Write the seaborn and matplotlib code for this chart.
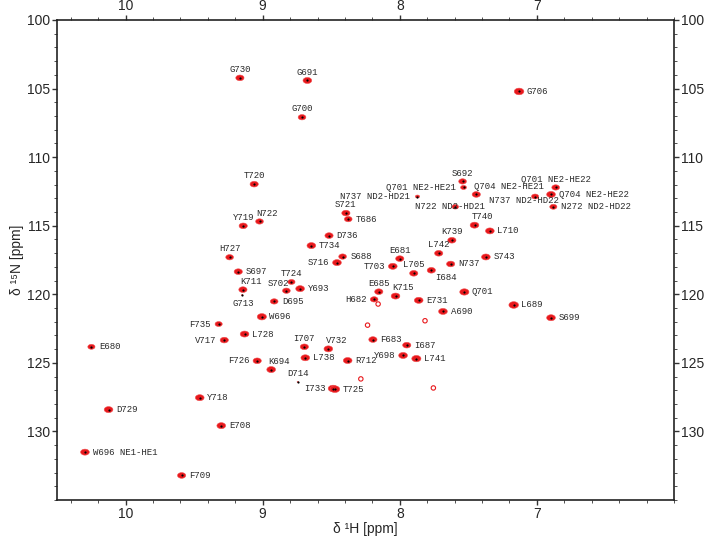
import numpy as np
import pandas as pd
import matplotlib
matplotlib.use('Agg')
import matplotlib.pyplot as plt
import seaborn as sns
from matplotlib.ticker import MultipleLocator

# assigned peaks: label, 1H shift, 15N shift, relative intensity
labels = ['G730', 'G691', 'G700', 'G706', 'T720', 'Y719', 'N722', 'S721', 'T686', 'S692',
          'Q701 NE2-HE21', 'Q704 NE2-HE21', 'N737 ND2-HD21', 'N722 ND2-HD21', 'N737 ND2-HD22',
          'Q701 NE2-HE22', 'Q704 NE2-HE22', 'N272 ND2-HD22', 'T740', 'L710',
          'K739', 'L742', 'S743', 'E681', 'N737', 'T703', 'L705', 'I684', 'K715', 'E731',
          'Q701', 'L689', 'S699', 'A690', 'D736', 'T734', 'H727', 'S688', 'S716', 'S697',
          'T724', 'K711', 'G713', 'S702', 'Y693', 'D695', 'E685', 'H682', 'W696', 'F735',
          'L728', 'F683', 'I707', 'V732', 'I687', 'L738', 'R712', 'Y698', 'L741', 'E680',
          'V717', 'F726', 'K694', 'D714', 'I733', 'T725', 'Y718', 'D729', 'E708',
          'W696 NE1-HE1', 'F709']
h_ppm = [9.166, 8.674, 8.713, 7.130, 9.062, 9.142, 9.023, 8.393, 8.376, 7.542,
         7.535, 7.442, 7.871, 7.595, 7.013,
         6.863, 6.897, 6.880, 7.455, 7.343,
         7.620, 7.716, 7.372, 8.000, 7.629, 8.051, 7.898, 7.770, 8.031, 7.862,
         7.529, 7.169, 6.897, 7.685, 8.516, 8.645, 9.241, 8.417, 8.458, 9.178,
         8.790, 9.144, 9.149, 8.827, 8.727, 8.916, 8.153, 8.187, 9.006, 9.321,
         9.132, 8.196, 8.696, 8.521, 7.949, 8.689, 8.380, 7.976, 7.879, 10.249,
         9.280, 9.040, 8.938, 8.744, 8.487, 8.473, 9.459, 10.124, 9.302,
         10.296, 9.591]
n_ppm = [104.22, 104.41, 107.09, 105.21, 111.97, 115.01, 114.69, 114.08, 114.52, 111.77,
         112.21, 112.72, 112.87, 113.62, 112.87,
         112.21, 112.72, 113.62, 114.96, 115.38,
         116.06, 117.01, 117.28, 117.40, 117.79, 117.96, 118.47, 118.25, 120.13, 120.44,
         119.83, 120.78, 121.71, 121.25, 115.72, 116.45, 117.30, 117.25, 117.69, 118.35,
         119.10, 119.66, 120.05, 119.74, 119.59, 120.52, 119.81, 120.37, 121.64, 122.17,
         122.90, 123.30, 123.83, 123.98, 123.71, 124.63, 124.83, 124.46, 124.69, 123.83,
         123.34, 124.85, 125.49, 126.39, 126.87, 126.92, 127.54, 128.41, 129.58,
         131.51, 133.21]
intensity = [1.0, 1.1, 0.9, 1.3, 1.0, 1.0, 0.9, 1.0, 0.9, 0.9,
             0.6, 1.0, 0.4, 0.7, 0.8,
             0.9, 1.1, 0.8, 1.1, 1.1,
             1.0, 1.0, 1.1, 1.0, 1.0, 1.1, 1.0, 1.0, 1.1, 1.1,
             1.2, 1.3, 1.1, 1.1, 1.0, 1.1, 0.9, 0.9, 1.1, 1.0,
             0.8, 1.0, 0.2, 0.9, 1.1, 0.9, 1.0, 0.9, 1.2, 0.8,
             1.1, 1.0, 1.0, 1.1, 1.0, 1.1, 1.1, 1.1, 1.2, 0.8,
             1.0, 1.0, 1.1, 0.2, 1.3, 1.3, 1.1, 1.1, 1.1,
             1.1, 1.0]

# weak unassigned contours
noise_h = [8.235, 7.816, 8.284, 7.755, 8.158]
noise_n = [122.25, 121.93, 126.17, 126.83, 120.71]

# where each label sits relative to its peak
place = ['a', 'a', 'a', 'r', 'a', 'a', 'ar', 'a', 'r', 'a',
         'l', 'ar', 'l', 'c', 'cb',
         'a', 'r', 'r', 'ar', 'r',
         'a', 'a', 'r', 'a', 'r', 'l', 'a', 'br', 'ar', 'r',
         'r', 'r', 'r', 'r', 'r', 'r', 'a', 'r', 'l', 'r',
         'a', 'ar', 'b', 'al', 'r', 'r', 'a', 'l', 'r', 'l',
         'r', 'r', 'a', 'ar', 'r', 'r', 'r', 'l', 'r', 'r',
         'l', 'l', 'ar', 'a', 'l', 'r', 'r', 'r', 'r',
         'r', 'r']
offsets = {'r': (5.5, 0, 'left'), 'l': (-5.5, 0, 'right'), 'a': (0, 6, 'center'),
           'ar': (-2, 6, 'left'), 'al': (2, 5, 'right'), 'b': (1, -6, 'center'),
           'br': (3, -5, 'left'), 'c': (-4, 0, 'center'), 'cb': (-8, -3, 'center')}

peaks = pd.DataFrame({'label': labels, 'H': h_ppm, 'N': n_ppm, 'I': intensity})
noise = pd.DataFrame({'H': noise_h, 'N': noise_n})

sns.set_style('ticks')
plt.rcParams['font.family'] = ['Liberation Sans', 'DejaVu Sans']

t = np.linspace(0, 2 * np.pi, 40)
ellipse = np.column_stack([1.45 * np.cos(t), np.sin(t)])

fig = plt.figure(figsize=(7.08, 5.42), dpi=100)
ax = fig.add_axes([57 / 708, 1 - 500 / 542, 617 / 708, 480 / 542])

sns.scatterplot(data=peaks, x='H', y='N', size='I', sizes=(1, 48), size_norm=(0.2, 1.3),
                marker=ellipse, color='#e8181c', edgecolor='#f05050', linewidth=0.4,
                legend=False, ax=ax, zorder=3)
sns.scatterplot(data=peaks, x='H', y='N', s=2.5, color='black', linewidth=0,
                legend=False, ax=ax, zorder=4)
sns.scatterplot(data=noise, x='H', y='N', s=10, marker='o', facecolor='none',
                edgecolor='#e8181c', linewidth=0.8, legend=False, ax=ax, zorder=3)

for i, row in peaks.iterrows():
    dx, dy, ha = offsets[place[i]]
    ax.annotate(row['label'], (row['H'], row['N']), xytext=(dx, dy),
                textcoords='offset points', ha=ha, va='center',
                fontsize=6.5, family='Liberation Mono', color='#2a2a2a', zorder=5)

ax.set_xlim(10.5, 6.0)
ax.set_ylim(135, 100)
ax.set_xticks([10, 9, 8, 7])
ax.set_yticks([100, 105, 110, 115, 120, 125, 130])
ax.xaxis.set_minor_locator(MultipleLocator(0.2))
ax.yaxis.set_minor_locator(MultipleLocator(1))
ax.tick_params(which='both', direction='out', top=True, right=True,
               labeltop=True, labelright=True, labelsize=10, pad=1.5, color='#333333')
ax.tick_params(which='major', length=3.5, width=1)
ax.tick_params(which='minor', length=2, width=0.6)
for sp in ax.spines.values():
    sp.set_linewidth(1.2)
    sp.set_color('#222222')

ax.set_xlabel('δ ¹H [ppm]', fontsize=10, labelpad=1)
ax.set_ylabel('δ ¹⁵N [ppm]', fontsize=10, labelpad=2)

fig.savefig('out.png', dpi=100)
